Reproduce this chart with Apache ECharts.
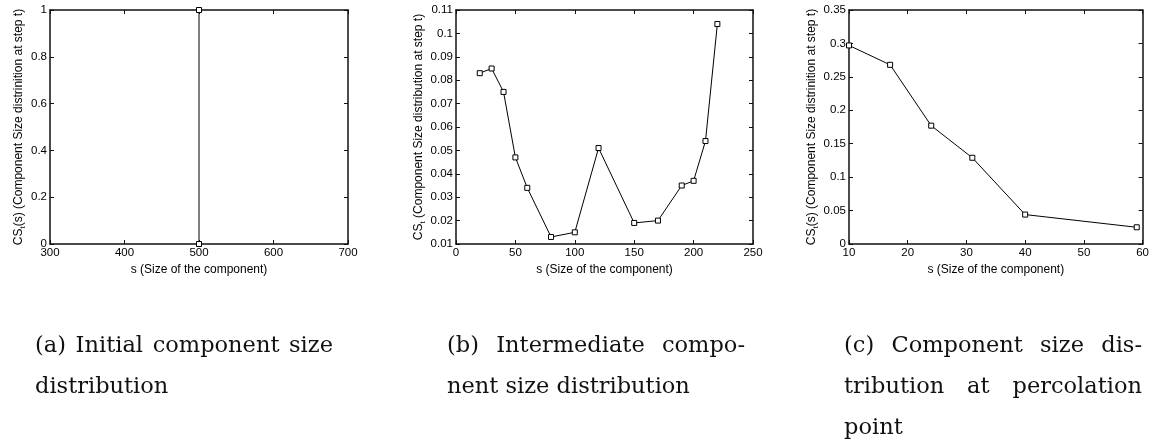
<!DOCTYPE html>
<html><head><meta charset="utf-8">
<script src="https://cdn.jsdelivr.net/npm/echarts@6/dist/echarts.min.js"></script>
<style>
html,body{margin:0;padding:0;background:#fff;}
#wrap{position:relative;width:1152px;height:441px;overflow:hidden;}
#chart{position:absolute;left:0;top:0;width:1152px;height:441px;}
.cap{position:absolute;font-family:"DejaVu Serif";font-size:22.5px;line-height:41px;color:#111;}
.cap div{white-space:nowrap;}
.cap div.j{text-align:justify;text-align-last:justify;white-space:normal;}
</style></head>
<body>
<div id="wrap"><div id="chart"></div></div>
<script>
// ---- data ----
const sA = [500, 500];
const csA = [0, 1];
const sB = [20, 30, 40, 50, 60, 80, 100, 120, 150, 170, 190, 200, 210, 220];
const csB = [0.083, 0.085, 0.075, 0.047, 0.034, 0.013, 0.015, 0.051, 0.019, 0.020, 0.035, 0.037, 0.054, 0.104];
const sC = [10, 17, 24, 31, 40, 59];
const csC = [0.297, 0.268, 0.177, 0.129, 0.044, 0.025];
// axis ranges [min, max, interval]
const xRangeA = [300, 700, 100];
const yRangeA = [0, 1, 0.2];
const xRangeB = [0, 250, 50];
const yRangeB = [0.01, 0.11, 0.01];
const xRangeC = [10, 60, 10];
const yRangeC = [0, 0.35, 0.05];
const xTitle = 's (Size of the component)';
const yTitleA = ['CS', 't', '(s) (Component Size distrinition at step t)'];
const yTitleB = ['CS', 't', ' (Component Size distribution at step t)'];
const yTitleC = ['CS', 't', '(s) (Component Size distrinition at step t)'];
const captionA = ['(a) Initial component size', 'distribution'];
const captionB = ['(b) Intermediate compo-', 'nent size distribution'];
const captionC = ['(c) Component size dis-', 'tribution at percolation', 'point'];

// ---- layout ----
const panels = [
  {grid: {left: 50, top: 10, width: 298, height: 234}, xr: xRangeA, yr: yRangeA, yt: yTitleA, gap: 16, xs: sA, ys: csA, cap: captionA, capLeft: 35},
  {grid: {left: 456, top: 10, width: 297, height: 234}, xr: xRangeB, yr: yRangeB, yt: yTitleB, gap: 25, xs: sB, ys: csB, cap: captionB, capLeft: 447},
  {grid: {left: 849, top: 10, width: 298, height: 234}, xr: xRangeC, yr: yRangeC, yt: yTitleC, gap: 27, xs: sC, ys: csC, cap: captionC, capLeft: 844}
];

const FONT = '"Liberation Sans", Arial, sans-serif';
const option = {animation: false, backgroundColor: '#fff', grid: [], xAxis: [], yAxis: [], series: []};
const lineC = '#111';

panels.forEach((p, i) => {
  option.grid.push(Object.assign({containLabel: false, show: false}, p.grid));
  const baseX = {
    gridIndex: i, type: 'value', min: p.xr[0], max: p.xr[1], interval: p.xr[2],
    axisLine: {show: true, onZero: false, lineStyle: {color: lineC, width: 1.5}},
    axisTick: {show: true, inside: true, length: 4, lineStyle: {color: lineC}},
    splitLine: {show: false}
  };
  const baseY = {
    gridIndex: i, type: 'value', min: p.yr[0], max: p.yr[1], interval: p.yr[2],
    axisLine: {show: true, onZero: false, lineStyle: {color: lineC, width: 1.5}},
    axisTick: {show: true, inside: true, length: 4, lineStyle: {color: lineC}},
    splitLine: {show: false}
  };
  option.xAxis.push(Object.assign({}, baseX, {
    position: 'bottom',
    axisLabel: {show: true, margin: 3, color: '#000', fontFamily: FONT, fontSize: 11.5, showMinLabel: true, showMaxLabel: true, hideOverlap: false},
    name: xTitle, nameLocation: 'middle', nameGap: 11,
    nameTextStyle: {color: '#000', fontFamily: FONT, fontSize: 12, verticalAlign: 'top'}
  }));
  option.xAxis.push(Object.assign({}, baseX, {position: 'top', axisLabel: {show: false}}));
  option.yAxis.push(Object.assign({}, baseY, {
    position: 'left',
    axisLabel: {show: true, margin: 3, color: '#000', fontFamily: FONT, fontSize: 11.5, showMinLabel: true, showMaxLabel: true, hideOverlap: false},
    name: '{a|' + p.yt[0] + '}{s|' + p.yt[1] + '}{a|' + p.yt[2] + '}',
    nameLocation: 'middle', nameGap: p.gap, nameRotate: 90,
    nameTextStyle: {
      color: '#000', fontFamily: FONT, fontSize: 12,
      rich: {
        a: {color: '#000', fontFamily: FONT, fontSize: 12, lineHeight: 16, verticalAlign: 'middle'},
        s: {color: '#000', fontFamily: FONT, fontSize: 8, lineHeight: 16, verticalAlign: 'bottom'}
      }
    }
  }));
  option.yAxis.push(Object.assign({}, baseY, {position: 'right', axisLabel: {show: false}}));
  option.series.push({
    type: 'line', xAxisIndex: 2 * i, yAxisIndex: 2 * i,
    data: p.xs.map((x, k) => [x, p.ys[k]]),
    symbol: 'rect', symbolSize: 5, showSymbol: true,
    lineStyle: {color: '#000', width: 1},
    itemStyle: {color: '#fff', borderColor: '#000', borderWidth: 1},
    emphasis: {disabled: true}, silent: true, clip: false
  });
});

const chart = echarts.init(document.getElementById('chart'), null, {renderer: 'canvas'});
chart.setOption(option);

// captions
const wrap = document.getElementById('wrap');
panels.forEach(p => {
  const d = document.createElement('div');
  d.className = 'cap';
  d.style.left = p.capLeft + 'px';
  d.style.top = '324px';
  d.style.width = '298px';
  p.cap.forEach((line, k) => {
    const l = document.createElement('div');
    if (k < p.cap.length - 1) l.className = 'j';
    l.textContent = line;
    d.appendChild(l);
  });
  wrap.appendChild(d);
});
</script>
</body></html>
